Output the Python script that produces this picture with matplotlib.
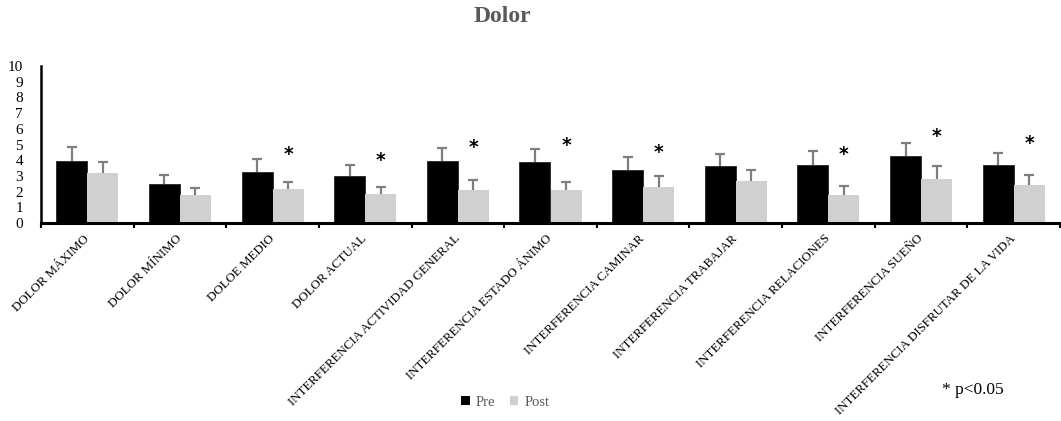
import matplotlib
matplotlib.use("Agg")
import matplotlib.pyplot as plt
import numpy as np
from matplotlib.patches import Patch

categories = ["DOLOR MÁXIMO", "DOLOR MÍNIMO", "DOLOE MEDIO", "DOLOR ACTUAL",
              "INTERFERENCIA ACTIVIDAD GENERAL", "INTERFERENCIA ESTADO ÁNIMO",
              "INTERFERENCIA CAMINAR", "INTERFERENCIA TRABAJAR",
              "INTERFERENCIA RELACIONES", "INTERFERENCIA SUEÑO",
              "INTERFERENCIA DISFRUTAR DE LA VIDA"]
pre = [3.96, 2.47, 3.28, 2.98, 3.94, 3.90, 3.37, 3.62, 3.71, 4.24, 3.71]
pre_sd = [0.88, 0.60, 0.77, 0.71, 0.81, 0.81, 0.85, 0.79, 0.85, 0.83, 0.78]
post = [3.19, 1.79, 2.17, 1.83, 2.13, 2.09, 2.28, 2.66, 1.79, 2.81, 2.43]
post_sd = [0.69, 0.43, 0.47, 0.49, 0.60, 0.49, 0.74, 0.71, 0.55, 0.83, 0.64]
significant = [False, False, True, True, True, True, True, False, True, True, True]
star_y = [0, 0, 4.35, 3.96, 4.79, 4.94, 4.47, 0, 4.39, 5.48, 5.09]
yticks = list(range(0, 11))

plt.rcParams['font.family'] = ['Liberation Serif', 'DejaVu Serif']

fig = plt.figure(figsize=(10.61, 4.21), dpi=100)
ax = fig.add_axes([41/1061, 198/421, 1019/1061, 157/421])

x = np.arange(len(categories))
w = 0.335
pre_c = "#000000"
post_c = "#d0d0d0"
err_c = "#7f7f7f"

ax.bar(x - w/2, pre, w, color=pre_c, edgecolor="#262626", linewidth=0.6, zorder=2)
ax.bar(x + w/2, post, w, color=post_c, edgecolor="none", zorder=2)
for xs, vals, sds in [(x - w/2, pre, pre_sd), (x + w/2, post, post_sd)]:
    eb = ax.errorbar(xs, vals, yerr=[np.zeros(len(vals)), sds], fmt="none",
                     ecolor=err_c, elinewidth=1.6, capsize=3.5, capthick=1.6,
                     zorder=3)
    eb[1][0].set_visible(False)

for i, s in enumerate(significant):
    if s:
        ax.text(x[i] + w/2, star_y[i], "*", ha="center", va="center",
                fontsize=13.5, fontweight="bold", color="black",
                family=["DejaVu Sans"])

ax.set_xlim(-0.5, len(categories) - 0.5)
ax.set_ylim(0, 10)
ax.set_yticks(yticks)
ax.set_yticklabels([str(t) for t in yticks], fontsize=11)
ax.tick_params(axis="y", length=0, pad=13)

ax.set_xticks(np.arange(len(categories) + 1) - 0.5)
ax.set_xticklabels([])
ax.tick_params(axis="x", which="major", length=3.5, width=1.5, direction="out")
ax.set_xticks(x, minor=True)
ax.set_xticklabels(categories, minor=True, rotation=45, ha="right",
                   rotation_mode="anchor", fontsize=9.3, va="center")
ax.tick_params(axis="x", which="minor", length=0, pad=10)

for side in ["top", "right"]:
    ax.spines[side].set_visible(False)
ax.spines["left"].set_linewidth(1.8)
ax.spines["bottom"].set_linewidth(2.2)

fig.text(502/1061, 1 - 17/421, "Dolor", ha="center", va="center",
         fontsize=17, fontweight="bold", color="#595959")

handles = [Patch(facecolor=pre_c, edgecolor="none", label="Pre"),
           Patch(facecolor=post_c, edgecolor="none", label="Post")]
fig.legend(handles=handles, loc="center", bbox_to_anchor=(505/1061, 1 - 402/421),
           ncol=2, frameon=False, fontsize=10.5, labelcolor="#595959",
           handlelength=0.6, handleheight=0.6, handletextpad=0.4,
           columnspacing=1.0)

fig.text(942/1061, 1 - 390/421, "* p<0.05", ha="left", va="center",
         fontsize=12.5, color="black")

fig.savefig("out.png", dpi=100)
